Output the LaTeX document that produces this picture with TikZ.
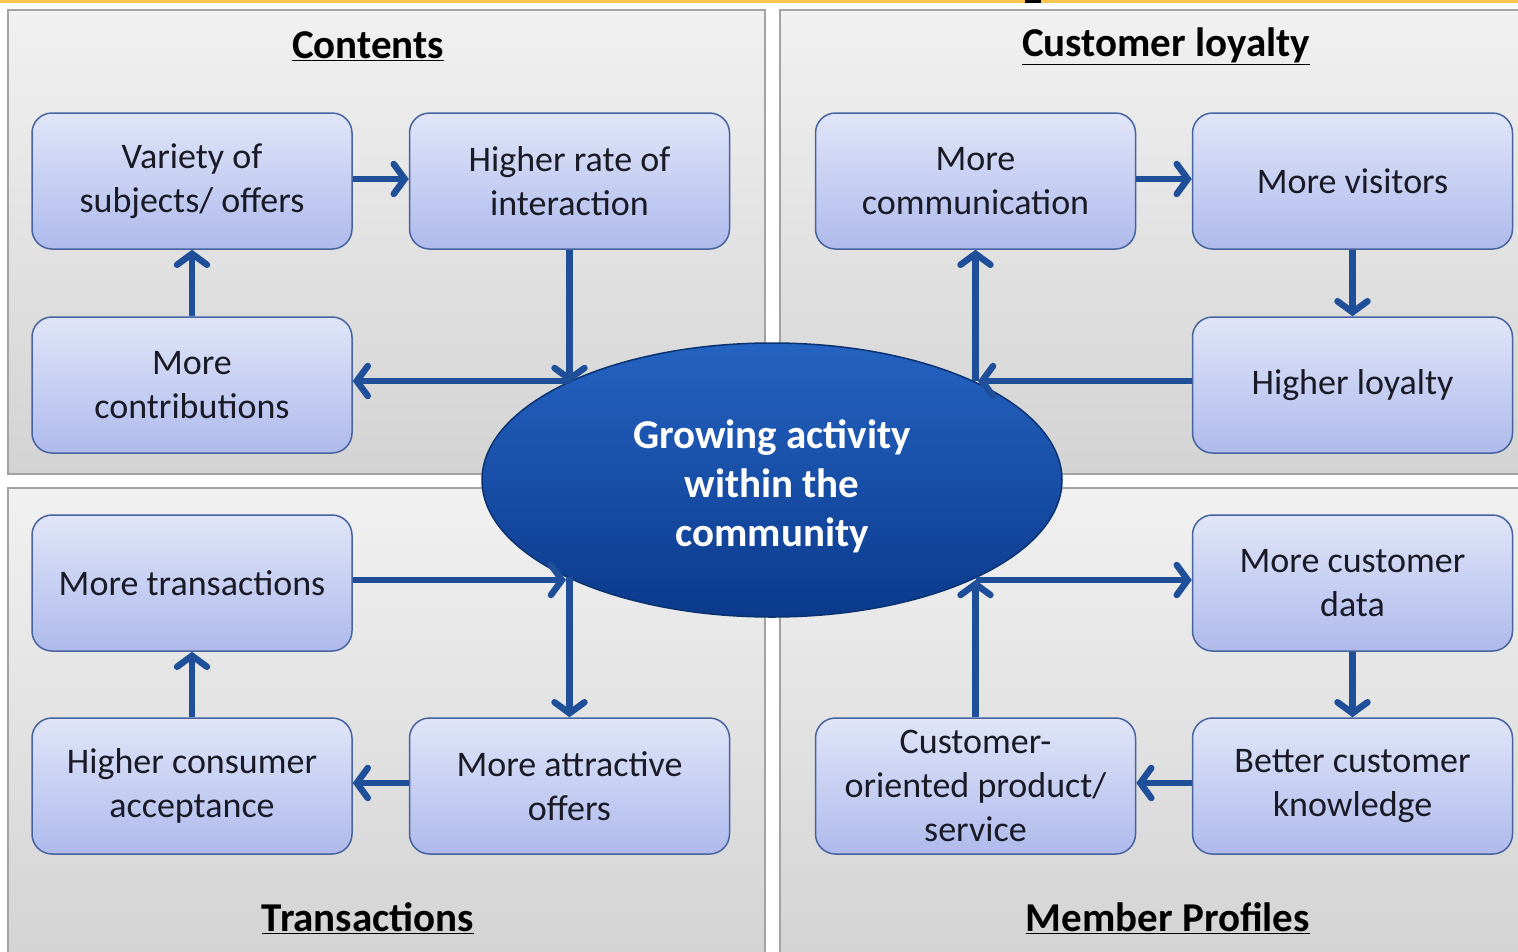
\documentclass[tikz,border=0pt]{standalone}
\usepackage{fontspec}
\setmainfont{Carlito}
\usetikzlibrary{shapes.geometric,arrows.meta}
\definecolor{panTop}{HTML}{F1F1F1}
\definecolor{panBot}{HTML}{D3D3D3}
\definecolor{panEdge}{HTML}{A3A3A3}
\definecolor{boxTop}{HTML}{E0E5F8}
\definecolor{boxBot}{HTML}{AFBAEC}
\definecolor{boxEdge}{HTML}{46639F}
\definecolor{arr}{HTML}{1F4F99}
\definecolor{ellTop}{HTML}{2563C2}
\definecolor{ellBot}{HTML}{0B3A8C}
\definecolor{ellEdge}{HTML}{0A3270}
\definecolor{txt}{HTML}{1A1A26}
\definecolor{topline}{HTML}{F7C54E}
\tikzset{
  panel/.style={draw=panEdge, line width=1.5pt, top color=panTop, bottom color=panBot},
  box/.style={rectangle, rounded corners=20pt, draw=boxEdge, line width=1.5pt,
    top color=boxTop, bottom color=boxBot, minimum width=320pt, minimum height=136pt,
    inner sep=0pt, align=center, text=txt, font=\fontsize{36}{44}\selectfont},
  hub/.style={ellipse, draw=ellEdge, line width=1.5pt, top color=ellTop, bottom color=ellBot,
    minimum width=580pt, minimum height=274pt, inner sep=0pt},
  hubtxt/.style={inner sep=0pt, align=center, text=white,
    font=\bfseries\fontsize{41}{49}\selectfont},
  ttl/.style={font=\bfseries\fontsize{41}{44}\selectfont, text=black, inner sep=0pt},
  link/.style={draw=arr, line width=6.5pt, -{Straight Barb[length=11pt,width=30pt,line cap=round]}}
}
\begin{document}
\begin{tikzpicture}[x=1pt,y=-1pt]
\useasboundingbox (0,0) rectangle (1518,951);
\clip (0,0) rectangle (1518,951);
\fill[white] (0,0) rectangle (1518,951);
\fill[topline] (0,0) rectangle (1518,2.5);
\fill[black] (1025,0) rectangle (1041,3);
% panels
\path[panel] (8,10) rectangle (765,474);
\path[panel] (780,10) rectangle (1530,474);
\path[panel] (8,488) rectangle (765,965);
\path[panel] (780,488) rectangle (1530,965);
% titles
\node[ttl] (t1) at (368,46) {\underline{Contents}};
\node[ttl] (t2) at (1166,46) {\underline{Customer loyalty}};
\node[ttl] (t3) at (368,918) {\underline{Transactions}};
\node[ttl] (t4) at (1168,918) {\underline{Member Profiles}};
% boxes
\node[box] (var) at (192,181) {Variety of\\subjects/ offers};
\node[box] (rate) at (569.5,181) {Higher rate of\\interaction};
\node[box] (contr) at (192,385) {More\\contributions};
\node[box] (comm) at (975.5,181) {More\\communication};
\node[box] (vis) at (1352.5,181) {More visitors};
\node[box] (loy) at (1352.5,385) {Higher loyalty};
\node[box] (trans) at (192,583) {More transactions};
\node[box] (accept) at (192,786) {Higher consumer\\acceptance};
\node[box] (attr) at (569.5,786) {More attractive\\offers};
\node[box] (data) at (1352.5,583) {More customer\\data};
\node[box] (know) at (1352.5,786) {Better customer\\knowledge};
\node[box] (orient) at (975.5,786) {Customer-\\oriented product/\\service};
% hub
\node[hub] (hub) at (772,480) {};
\node[hubtxt] (hubtext) at (772,486) {Growing activity\\within the\\community};
% points on hub
\coordinate (pTL) at (569.5,383);
\coordinate (pTR) at (978,381);
\coordinate (pBL) at (566,580);
\coordinate (pBR) at (975.5,580);
% arrows: contents
\draw[link] (var.east |- 0,179) -- (rate.west |- 0,179);
\draw[link] (contr.north) -- (var.south);
\draw[link] (rate.south) -- (pTL);
\draw[link] (pTL |- 0,381) -- (contr.east |- 0,381);
% customer loyalty
\draw[link] (comm.east |- 0,179) -- (vis.west |- 0,179);
\draw[link] (vis.south) -- (loy.north);
\draw[link] (loy.west |- 0,381) -- (pTR);
\draw[link] (comm.south |- 0,381) -- (comm.south);
% transactions
\draw[link] (trans.east |- 0,580) -- (pBL);
\draw[link] (attr.north |- 0,577) -- (attr.north);
\draw[link] (attr.west |- 0,783) -- (accept.east |- 0,783);
\draw[link] (accept.north) -- (trans.south);
% member profiles
\draw[link] (orient.north) -- (pBR);
\draw[link] (pBR) -- (data.west |- 0,580);
\draw[link] (data.south) -- (know.north);
\draw[link] (know.west |- 0,783) -- (orient.east |- 0,783);
\end{tikzpicture}
\end{document}
